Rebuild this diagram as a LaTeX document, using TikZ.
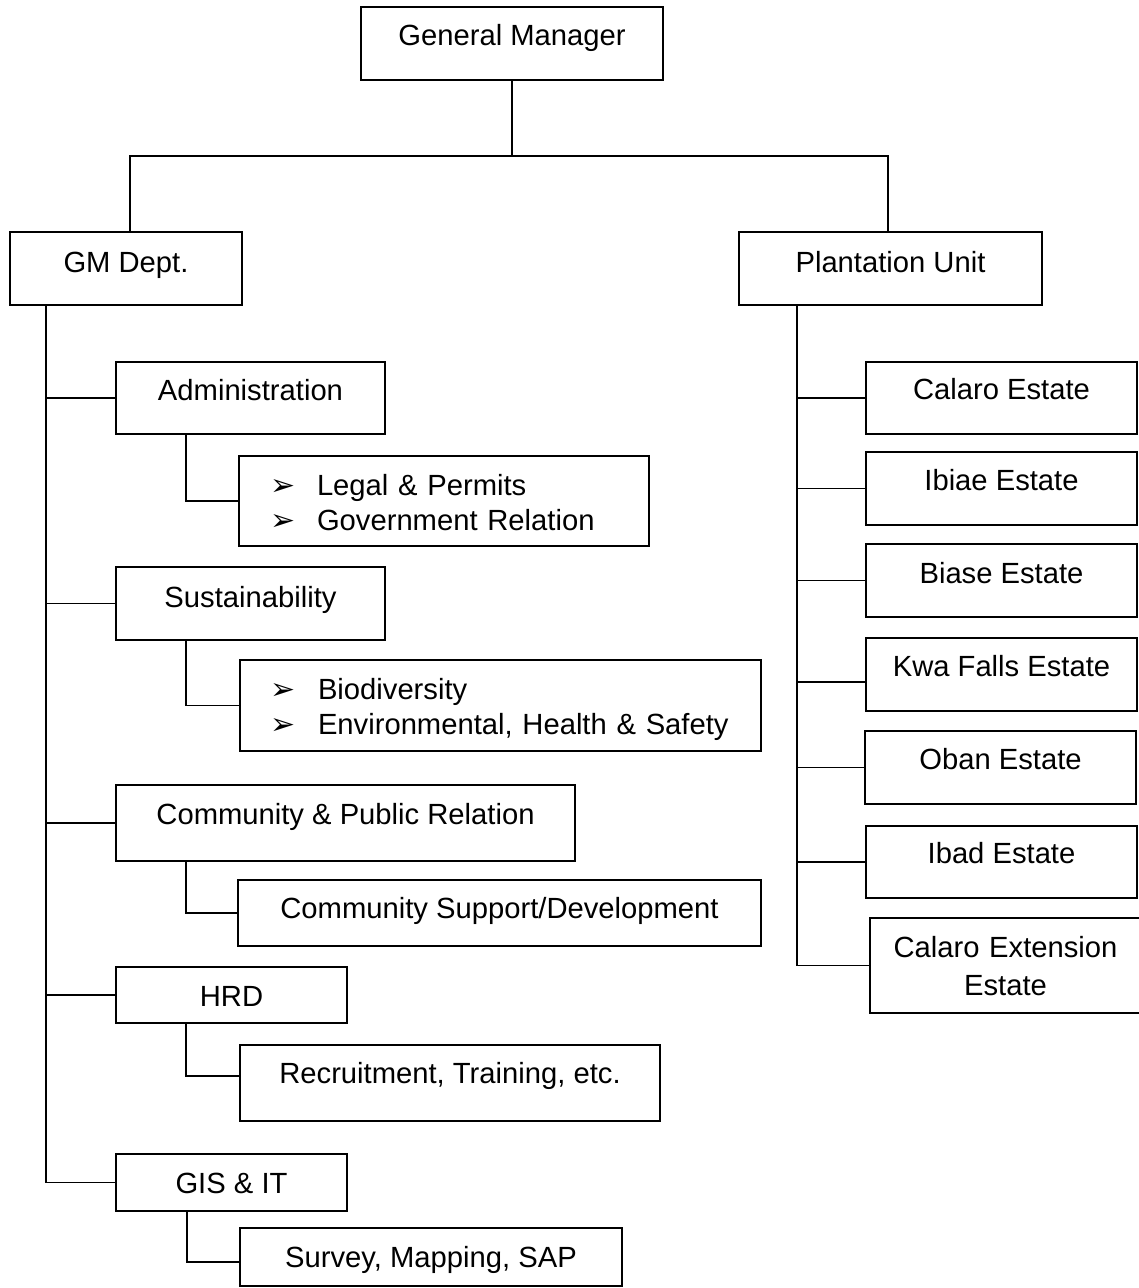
\documentclass[tikz,border=0pt]{standalone}
\usepackage{fontspec}
\setmainfont{Liberation Sans}
\newfontfamily\dejavu{DejaVu Sans}
\newcommand{\bulmark}{{\dejavu\fontsize{30pt}{30pt}\selectfont ➢}}
\begin{document}
\begin{tikzpicture}[x=1pt,y=-1pt,
  box/.style={draw, line width=1.8pt, rectangle, inner ysep=0pt, minimum height=0pt,
    font=\fontsize{29.2pt}{35pt}\selectfont},
  listbox/.style={box, inner xsep=0pt, align=left},
  conn/.style={line width=1.4pt}]
\useasboundingbox (0,0) rectangle (1139,1288);
% top level
\node[box, minimum width=302pt, text height=38pt, text depth=35pt] (gm) at (512,43.5) {General Manager};
\node[box, minimum width=232pt, text height=40pt, text depth=33pt] (gmd) at (126,268.5) {GM Dept.};
\node[box, minimum width=303pt, text height=40pt, text depth=33pt] (pu) at (890.5,268.5) {Plantation Unit};
% left branch
\node[box, minimum width=269pt, text height=38pt, text depth=34pt] (adm) at (250.5,398) {Administration};
\node[listbox, text width=410pt, text height=39pt, text depth=51pt] (adms) at (444,501)
  {\hspace*{31pt}\makebox[47pt][l]{\bulmark}Legal \& Permits\\\hspace*{31pt}\makebox[47pt][l]{\bulmark}Government Relation};
\node[box, minimum width=269pt, text height=40pt, text depth=33pt] (sus) at (250.5,603.5) {Sustainability};
\node[listbox, text width=521pt, text height=39pt, text depth=52pt] (suss) at (500.5,705.5)
  {\hspace*{30pt}\makebox[48pt][l]{\bulmark}Biodiversity\\\hspace*{30pt}\makebox[48pt][l]{\bulmark}Environmental, Health \& Safety};
\node[box, minimum width=459pt, text height=39pt, text depth=37pt] (cpr) at (345.5,823) {Community \& Public Relation};
\node[box, minimum width=523pt, text height=38pt, text depth=28pt] (cprs) at (499.5,913) {Community Support/Development};
\node[box, minimum width=231pt, text height=39pt, text depth=17pt] (hrd) at (231.5,995) {HRD};
\node[box, minimum width=420pt, text height=38pt, text depth=38pt] (hrds) at (450,1083) {Recruitment, Training, etc.};
\node[box, minimum width=231pt, text height=39pt, text depth=18pt] (gis) at (231.5,1182.5) {GIS \& IT};
\node[box, minimum width=382pt, text height=39pt, text depth=19pt] (giss) at (431,1257) {Survey, Mapping, SAP};
% right branch
\node[box, minimum width=271pt, text height=37pt, text depth=35pt] (cal) at (1001.5,398) {Calaro Estate};
\node[box, minimum width=271pt, text height=38pt, text depth=35pt] (ibi) at (1001.5,488.5) {Ibiae Estate};
\node[box, minimum width=271pt, text height=39pt, text depth=34pt] (bia) at (1001.5,580.5) {Biase Estate};
\node[box, minimum width=271pt, text height=38pt, text depth=35pt] (kwa) at (1001.5,674.5) {Kwa Falls Estate};
\node[box, minimum width=271pt, text height=38pt, text depth=35pt] (oba) at (1000.5,767.5) {Oban Estate};
\node[box, minimum width=271pt, text height=37pt, text depth=35pt] (iba) at (1001.5,862) {Ibad Estate};
\node[box, inner xsep=0pt, text width=271pt, text height=39pt, text depth=56pt, align=center,
  font=\fontsize{29.2pt}{38pt}\selectfont] (cex) at (1005.5,965.5) {Calaro Extension\\Estate};
% connectors top
\coordinate (bus) at (512,156);
\draw[conn] (gm.south) -- (bus);
\draw[conn] ([xshift=4pt]gmd.north) |- (bus) -| ([xshift=-2.5pt]pu.north);
% left spine
\coordinate (ls) at (46,305);
\draw[conn] (ls) |- (gis.west);
\foreach \n in {adm,sus,cpr,hrd} \draw[conn] (ls |- \n.west) -- (\n.west);
\draw[conn] ([xshift=71pt]adm.south west) |- (adms.west);
\draw[conn] ([xshift=71pt]sus.south west) |- (suss.west);
\draw[conn] ([xshift=71pt]cpr.south west) |- (cprs.west);
\coordinate (hrdj) at ([yshift=7pt]hrds.west);
\draw[conn] ([xshift=71pt]hrd.south west) |- (hrdj);
\coordinate (gisj) at ([yshift=-5pt]giss.west);
\draw[conn] ([xshift=72pt]gis.south west) |- (gisj);
% right spine
\coordinate (rs) at (797,305);
\draw[conn] (rs) |- (cex.west);
\foreach \n in {cal,ibi,bia,oba,iba} \draw[conn] (rs |- \n.west) -- (\n.west);
\coordinate (kwaj) at ([yshift=-7.5pt]kwa.west);
\draw[conn] (rs |- kwaj) -- (kwaj);
\end{tikzpicture}
\end{document}
